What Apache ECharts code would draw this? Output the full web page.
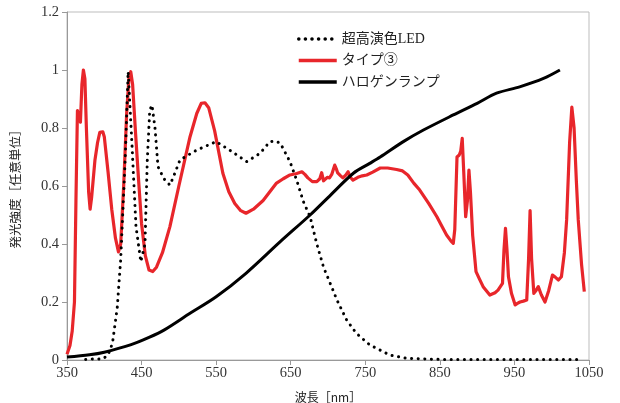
<!DOCTYPE html>
<html>
<head>
<meta charset="utf-8">
<script src="https://cdn.jsdelivr.net/npm/echarts@6/dist/echarts.min.js"></script>
<style>html,body{margin:0;padding:0;background:#fff;}#c{width:620px;height:403px;}</style>
</head>
<body>
<div id="c"></div>
<script>
const seriesNames = ['超高演色LED', 'タイプ③', 'ハロゲンランプ'];
const xTicks = [350, 450, 550, 650, 750, 850, 950, 1050];
const yTicks = [0, 0.2, 0.4, 0.6, 0.8, 1, 1.2];

const ledData = [[375,0.002],[381,0.003],[398,0.004],[405,0.017],[411,0.058],[414,0.115],[417.5,0.184],[420,0.276],[422,0.345],[428,0.69],[432,0.994],[437,0.748],[442.5,0.46],[449,0.339],[454.6,0.40],[457.7,0.69],[461,0.862],[464,0.879],[468,0.80],[472,0.667],[480,0.625],[488,0.603],[494,0.64],[501.5,0.69],[524,0.724],[550,0.753],[568,0.724],[591,0.684],[609,0.713],[622,0.753],[629,0.755],[636,0.748],[649,0.684],[658,0.62],[667,0.546],[676,0.494],[685,0.40],[694,0.32],[703,0.264],[712,0.207],[725,0.138],[738,0.092],[756,0.052],[770,0.034],[783,0.017],[805,0.006],[850,0.002],[1040,0.002]];

const type3Data = [[350,0.02],[354,0.05],[357,0.1],[360,0.2],[362,0.55],[364,0.86],[366,0.86],[368,0.82],[370,0.95],[372,1.0],[374,0.97],[376,0.8],[379,0.58],[381,0.52],[383,0.56],[387.5,0.69],[391,0.75],[394,0.785],[398,0.787],[400,0.77],[405,0.65],[410,0.52],[415,0.42],[419,0.373],[422,0.4],[426,0.6],[430,0.85],[433,0.97],[435.5,0.994],[438,0.95],[442,0.78],[446,0.62],[450,0.47],[455,0.36],[460,0.31],[465,0.305],[470,0.32],[478,0.37],[488,0.46],[500,0.6],[515,0.77],[524,0.85],[530,0.885],[535,0.887],[540,0.87],[548,0.79],[559,0.644],[567,0.58],[575,0.54],[583,0.515],[590,0.506],[600,0.52],[613,0.55],[622,0.58],[631,0.61],[640,0.625],[649,0.638],[658,0.643],[665,0.649],[669,0.64],[673,0.628],[679,0.615],[685,0.615],[689,0.625],[691.5,0.646],[694,0.618],[696,0.615],[699,0.63],[702,0.628],[705,0.64],[709,0.672],[711,0.66],[713,0.645],[717,0.635],[720,0.628],[724,0.638],[727,0.649],[730,0.63],[733.5,0.62],[740,0.63],[746,0.635],[752,0.638],[760,0.648],[770,0.662],[780,0.662],[792,0.657],[800,0.652],[807,0.638],[815,0.61],[823,0.586],[835,0.54],[846,0.494],[852,0.465],[859,0.431],[865,0.41],[868,0.402],[870,0.45],[873,0.70],[876,0.707],[878,0.72],[880,0.764],[882,0.65],[884.6,0.494],[887,0.55],[889,0.655],[891,0.58],[894,0.43],[898.5,0.305],[903,0.28],[908,0.253],[917,0.224],[924,0.232],[928,0.241],[934,0.264],[936,0.38],[938,0.454],[940,0.38],[942,0.287],[946,0.23],[951,0.19],[954,0.195],[957.5,0.2],[962,0.203],[966.5,0.207],[969,0.35],[971,0.515],[973,0.35],[976,0.23],[979,0.24],[982,0.253],[986,0.225],[991,0.2],[996,0.24],[1001,0.293],[1005,0.285],[1009,0.276],[1013,0.287],[1017,0.37],[1020,0.483],[1024,0.75],[1027,0.872],[1030,0.8],[1033,0.62],[1035.6,0.483],[1040,0.33],[1043.7,0.236]];

const halogenData = [[350,0.01],[380,0.018],[400,0.027],[435,0.052],[460,0.078],[480,0.103],[515,0.161],[550,0.218],[590,0.299],[636,0.408],[676,0.50],[700,0.56],[734,0.644],[756,0.678],[770,0.70],[801,0.753],[828,0.793],[868,0.845],[900,0.885],[926,0.92],[957,0.942],[989,0.971],[1011,1.0]];

const serif = '"Liberation Serif", "DejaVu Serif", "Noto Sans CJK JP", serif';
const cjk = '"Noto Sans CJK JP", sans-serif';

const chart = echarts.init(document.getElementById('c'), null, {renderer: 'canvas'});
chart.setOption({
  animation: false,
  backgroundColor: '#fff',
  grid: {left: 67, right: 31, top: 12, bottom: 43, containLabel: false, outerBoundsMode: 'none',
         show: true, borderColor: '#bdbdbd', borderWidth: 1},
  legend: {
    orient: 'vertical', left: 292, top: 27, itemWidth: 38, itemHeight: 14, itemGap: 7.5,
    data: seriesNames,
    itemStyle: {opacity: 0},
    lineStyle: {width: 3.5},
    textStyle: {fontFamily: serif, fontSize: 14, color: '#222'}
  },
  xAxis: {
    type: 'value', min: xTicks[0], max: xTicks[xTicks.length - 1], interval: 100,
    name: '波長［nm］', nameLocation: 'middle', nameGap: 31,
    nameTextStyle: {fontFamily: cjk, fontSize: 12, color: '#222'},
    axisLine: {lineStyle: {color: '#999', width: 1}},
    axisTick: {show: true, inside: false, length: 5, lineStyle: {color: '#999'}},
    axisLabel: {fontFamily: serif, fontSize: 14.5, color: '#333', margin: 6, formatter: v => String(v)},
    splitLine: {show: false}
  },
  yAxis: {
    type: 'value', min: yTicks[0], max: yTicks[yTicks.length - 1], interval: 0.2,
    name: '発光強度［任意単位］', nameLocation: 'middle', nameGap: 45,
    nameTextStyle: {fontFamily: cjk, fontSize: 12.5, color: '#222'},
    axisLine: {show: true, lineStyle: {color: '#999', width: 1}},
    axisTick: {show: true, inside: false, length: 5, lineStyle: {color: '#999'}},
    axisLabel: {fontFamily: serif, fontSize: 14.5, color: '#333', margin: 8,
      formatter: v => String(Math.round(v * 10) / 10)},
    splitLine: {show: false}
  },
  series: [
    {name: seriesNames[0], type: 'line', data: ledData, symbol: 'none', z: 3,
     lineStyle: {color: '#000', width: 3, type: [0.1, 6.5], cap: 'round'},
     itemStyle: {color: '#000'}},
    {name: seriesNames[1], type: 'line', data: type3Data, symbol: 'none', z: 2,
     lineStyle: {color: '#e8262b', width: 3.2, join: 'round'},
     itemStyle: {color: '#e8262b'}},
    {name: seriesNames[2], type: 'line', data: halogenData, symbol: 'none', smooth: 0.3, z: 4,
     lineStyle: {color: '#000', width: 3},
     itemStyle: {color: '#000'}}
  ]
});
</script>
</body>
</html>
